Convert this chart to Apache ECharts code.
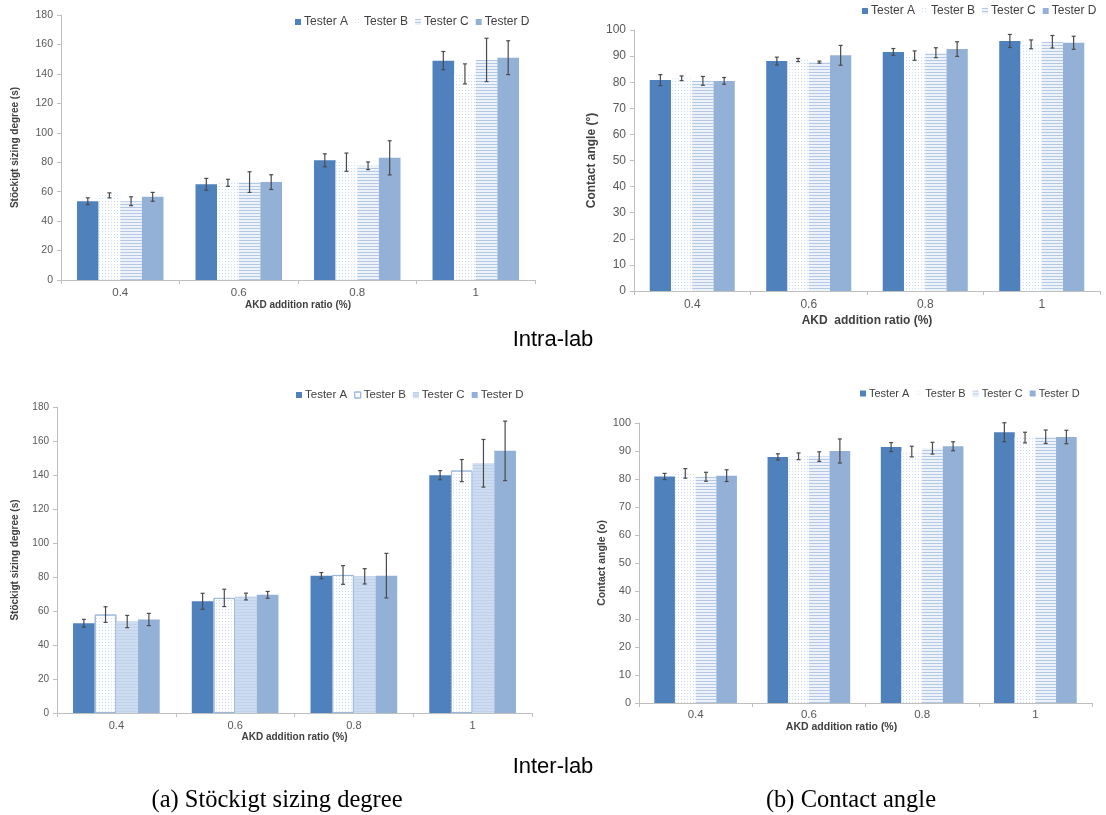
<!DOCTYPE html>
<html>
<head>
<meta charset="utf-8">
<script src="https://cdn.jsdelivr.net/npm/echarts@6/dist/echarts.min.js"></script>
<style>
  html, body { margin: 0; padding: 0; background: #ffffff; }
  #chart { width: 1106px; height: 815px; }
</style>
</head>
<body>
<div id="chart"></div>
<script>
// ---- data ---------------------------------------------------------------
const categories = ['0.4', '0.6', '0.8', '1'];
const testers = ['Tester A', 'Tester B', 'Tester C', 'Tester D'];

// y-axis ticks
const sizingTicks = { min: 0, max: 180, step: 20 };
const angleTicks = { min: 0, max: 100, step: 10 };

// Stöckigt sizing degree (s), intra-lab: mean per tester, then standard deviation
const sizingIntraA = [53.5, 65.0, 81.3, 149.0];
const sizingIntraB = [57.5, 66.0, 80.0, 140.0];
const sizingIntraC = [53.5, 66.5, 77.6, 149.5];
const sizingIntraD = [56.5, 66.5, 83.0, 151.0];
const sizingIntraErrA = [2.3, 4.0, 4.4, 6.2];
const sizingIntraErrB = [1.7, 2.4, 6.2, 6.8];
const sizingIntraErrC = [3.0, 7.0, 2.6, 14.7];
const sizingIntraErrD = [3.0, 5.0, 11.6, 11.5];

// Contact angle (°), intra-lab
const angleIntraA = [80.8, 88.1, 91.6, 95.8];
const angleIntraB = [81.5, 88.5, 90.2, 94.5];
const angleIntraC = [80.5, 87.7, 91.3, 95.5];
const angleIntraD = [80.5, 90.3, 92.7, 95.1];
const angleIntraErrA = [2.1, 1.5, 1.3, 2.5];
const angleIntraErrB = [0.9, 0.6, 1.8, 1.7];
const angleIntraErrC = [1.7, 0.4, 1.9, 2.4];
const angleIntraErrD = [1.3, 3.8, 2.8, 2.5];

// Stöckigt sizing degree (s), inter-lab
const sizingInterA = [52.8, 65.7, 80.8, 139.9];
const sizingInterB = [57.9, 67.7, 81.2, 142.6];
const sizingInterC = [53.8, 68.5, 80.4, 146.9];
const sizingInterD = [55.0, 69.5, 80.8, 154.2];
const sizingInterErrA = [2.3, 4.7, 1.8, 2.7];
const sizingInterErrB = [4.6, 5.1, 5.5, 6.5];
const sizingInterErrC = [3.6, 2.0, 4.5, 14.0];
const sizingInterErrD = [3.6, 2.0, 13.1, 17.5];

// Contact angle (o), inter-lab
const angleInterA = [80.9, 87.9, 91.4, 96.7];
const angleInterB = [82.0, 88.1, 89.8, 94.8];
const angleInterC = [80.8, 88.0, 91.0, 95.1];
const angleInterD = [81.2, 90.0, 91.7, 95.0];
const angleInterErrA = [1.1, 1.1, 1.6, 3.4];
const angleInterErrB = [1.7, 1.2, 1.9, 1.9];
const angleInterErrC = [1.6, 1.7, 2.1, 2.4];
const angleInterErrD = [2.1, 4.3, 1.6, 2.4];

// ---- styles -------------------------------------------------------------
const FONT = "'Liberation Sans', Arial, Helvetica, sans-serif";
const SERIF = "'Liberation Serif', 'Times New Roman', serif";
const AXIS_COLOR = '#bfbfbf';
const LABEL_COLOR = '#595959';
const NAME_COLOR = '#404040';
const GAP = 0.27;

const styleA = { color: '#4f81bd' };
const styleD = { color: '#93b1d7' };
const styleB = {
  color: '#fdfeff',
  decal: { symbol: 'rect', symbolSize: 1, color: '#cfdcee', dashArrayX: [1, 2], dashArrayY: [1, 2] }
};
const styleBOutlined = {
  color: '#fdfeff', borderColor: '#9bb8dc', borderWidth: 1,
  decal: { symbol: 'rect', symbolSize: 1, color: '#cfdcee', dashArrayX: [1, 2], dashArrayY: [1, 2] }
};
const styleC = {
  color: '#eef3fa',
  decal: { symbol: 'rect', symbolSize: 1, color: '#b3c8e4', dashArrayX: [1, 0], dashArrayY: [1, 2] }
};
const styleCSoft = {
  color: '#cddcf0',
  decal: { symbol: 'rect', symbolSize: 1, color: '#c0d2ea', dashArrayX: [1, 0], dashArrayY: [1, 2] }
};

// ---- panels -------------------------------------------------------------
const panels = [
  {
    grid: { left: 61, top: 15, width: 474, height: 265 },
    legend: { left: 295, top: 16, fontSize: 12 },
    ticks: sizingTicks, tickFont: 10.5, catFont: 11.5, catMargin: 7,
    yName: 'Stöckigt sizing degree (s)', yGap: 41, nameFont: 10,
    xName: 'AKD addition ratio (%)', xGap: 17, xNameShift: 0,
    values: [sizingIntraA, sizingIntraB, sizingIntraC, sizingIntraD],
    errors: [sizingIntraErrA, sizingIntraErrB, sizingIntraErrC, sizingIntraErrD],
    styles: [styleA, styleB, styleC, styleD]
  },
  {
    grid: { left: 634, top: 30, width: 466, height: 261 },
    legend: { left: 862, top: 5, fontSize: 12 },
    ticks: angleTicks, tickFont: 12, catFont: 12, catMargin: 8,
    yName: 'Contact angle (°)', yGap: 36, nameFont: 12,
    xName: 'AKD  addition ratio (%)', xGap: 24, xNameShift: 0,
    values: [angleIntraA, angleIntraB, angleIntraC, angleIntraD],
    errors: [angleIntraErrA, angleIntraErrB, angleIntraErrC, angleIntraErrD],
    styles: [styleA, styleB, styleC, styleD]
  },
  {
    grid: { left: 57, top: 407, width: 475, height: 306 },
    legend: { left: 296, top: 389, fontSize: 11.5 },
    ticks: sizingTicks, tickFont: 10, catFont: 11, catMargin: 7,
    yName: 'Stöckigt sizing degree (s)', yGap: 37, nameFont: 10,
    xName: 'AKD addition ratio (%)', xGap: 18, xNameShift: 0,
    values: [sizingInterA, sizingInterB, sizingInterC, sizingInterD],
    errors: [sizingInterErrA, sizingInterErrB, sizingInterErrC, sizingInterErrD],
    styles: [styleA, styleBOutlined, styleCSoft, styleD]
  },
  {
    grid: { left: 639, top: 423, width: 453, height: 280 },
    legend: { left: 860, top: 388, fontSize: 11 },
    ticks: angleTicks, tickFont: 11, catFont: 11.5, catMargin: 6,
    yName: 'Contact angle (o)', yGap: 31, nameFont: 10.5,
    xName: 'AKD addition ratio (%)', xGap: 18, xNameShift: -24,
    values: [angleInterA, angleInterB, angleInterC, angleInterD],
    errors: [angleInterErrA, angleInterErrB, angleInterErrC, angleInterErrD],
    styles: [styleA, styleB, styleC, styleD]
  }
];

// error bar drawn at the centre of the k-th bar inside each category band
function errorBarItem(params, api) {
  const cat = api.value(0), val = api.value(1), err = api.value(2), k = api.value(3);
  const band = api.size([1, 0])[0];
  const barW = band * (1 - GAP) / testers.length;
  const x = api.coord([cat, val])[0] + (k - (testers.length - 1) / 2) * barW;
  const yHi = api.coord([cat, val + err])[1];
  const yLo = api.coord([cat, val - err])[1];
  const cap = 2;
  const stroke = { stroke: '#4a4a4a', lineWidth: 1.2 };
  return {
    type: 'group',
    children: [
      { type: 'line', shape: { x1: x, y1: yHi, x2: x, y2: yLo }, style: stroke },
      { type: 'line', shape: { x1: x - cap, y1: yHi, x2: x + cap, y2: yHi }, style: stroke },
      { type: 'line', shape: { x1: x - cap, y1: yLo, x2: x + cap, y2: yLo }, style: stroke }
    ]
  };
}

const grids = [], xAxes = [], yAxes = [], legends = [], series = [];

panels.forEach((p, i) => {
  grids.push(Object.assign({ containLabel: false }, p.grid));

  // a negative shift moves the axis title left by padding its right side
  const shift = p.xNameShift || 0;
  const namePad = shift < 0 ? [0, -2 * shift, 0, 0] : [0, 0, 0, 2 * shift];

  xAxes.push({
    type: 'category', gridIndex: i, data: categories,
    name: p.xName, nameLocation: 'middle', nameGap: p.xGap,
    nameTextStyle: { fontFamily: FONT, fontWeight: 'bold', fontSize: p.nameFont, color: NAME_COLOR, padding: namePad },
    axisLine: { show: true, lineStyle: { color: AXIS_COLOR, width: 1 } },
    axisTick: { show: true, length: 4, lineStyle: { color: AXIS_COLOR } },
    axisLabel: { fontFamily: FONT, fontSize: p.catFont, color: LABEL_COLOR, margin: p.catMargin },
    splitLine: { show: false }
  });

  yAxes.push({
    type: 'value', gridIndex: i,
    min: p.ticks.min, max: p.ticks.max, interval: p.ticks.step,
    name: p.yName, nameLocation: 'middle', nameGap: p.yGap, nameRotate: 90,
    nameTextStyle: { fontFamily: FONT, fontWeight: 'bold', fontSize: p.nameFont, color: NAME_COLOR },
    axisLine: { show: true, lineStyle: { color: AXIS_COLOR, width: 1 } },
    axisTick: { show: true, length: 4, lineStyle: { color: AXIS_COLOR } },
    axisLabel: { fontFamily: FONT, fontSize: p.tickFont, color: LABEL_COLOR, margin: 8 },
    splitLine: { show: false }
  });

  legends.push({
    left: p.legend.left, top: p.legend.top, padding: 0,
    orient: 'horizontal', itemWidth: 6, itemHeight: 6, itemGap: 7,
    icon: 'rect', selectedMode: false,
    data: testers.map((t, k) => ({ name: t, itemStyle: p.styles[k] })),
    textStyle: { fontFamily: FONT, fontSize: p.legend.fontSize, color: NAME_COLOR, padding: [0, 0, 0, -2] }
  });

  testers.forEach((t, k) => {
    series.push({
      type: 'bar', name: t, xAxisIndex: i, yAxisIndex: i,
      data: p.values[k], barGap: '0%', barCategoryGap: (GAP * 100) + '%',
      itemStyle: p.styles[k], emphasis: { disabled: true }, animation: false
    });
  });

  const errData = [];
  testers.forEach((t, k) => {
    categories.forEach((c, ci) => errData.push([ci, p.values[k][ci], p.errors[k][ci], k]));
  });
  series.push({
    type: 'custom', xAxisIndex: i, yAxisIndex: i, z: 5,
    renderItem: errorBarItem, data: errData,
    encode: { x: 0, y: 1 }, animation: false, silent: true
  });
});

const chart = echarts.init(document.getElementById('chart'), null, { renderer: 'canvas' });
chart.setOption({
  backgroundColor: '#ffffff',
  animation: false,
  grid: grids,
  xAxis: xAxes,
  yAxis: yAxes,
  legend: legends,
  series: series,
  graphic: [
    { type: 'text', x: 553, y: 340,
      style: { text: 'Intra-lab', font: "22px " + FONT, fill: '#000000', textAlign: 'center', textVerticalAlign: 'middle' } },
    { type: 'text', x: 553, y: 767,
      style: { text: 'Inter-lab', font: "22px " + FONT, fill: '#000000', textAlign: 'center', textVerticalAlign: 'middle' } },
    { type: 'text', x: 277, y: 801,
      style: { text: '(a) Stöckigt sizing degree', font: "24.5px " + SERIF, fill: '#000000', textAlign: 'center', textVerticalAlign: 'middle' } },
    { type: 'text', x: 851, y: 801,
      style: { text: '(b) Contact angle', font: "24.5px " + SERIF, fill: '#000000', textAlign: 'center', textVerticalAlign: 'middle' } }
  ]
});
</script>
</body>
</html>
